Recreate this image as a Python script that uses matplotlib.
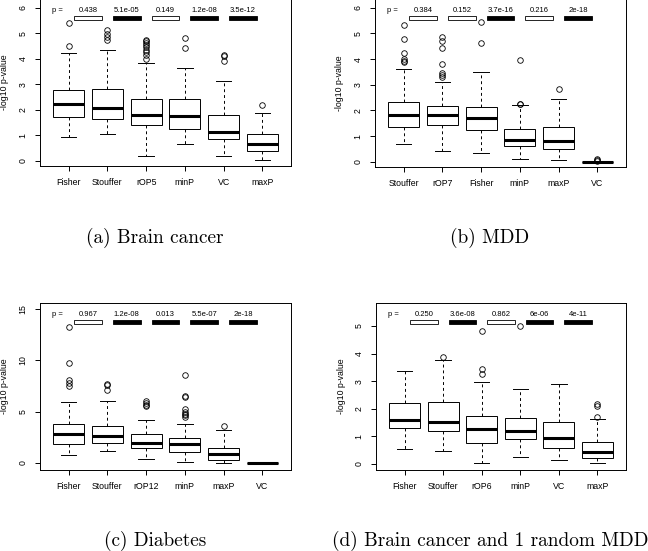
import matplotlib
matplotlib.use("Agg")
import matplotlib.pyplot as plt
from matplotlib.patches import Rectangle

plt.rcParams['font.family'] = ['Liberation Sans', 'DejaVu Sans']

# panel (a) Brain cancer
a_names = ['Fisher', 'Stouffer', 'rOP5', 'minP', 'VC', 'maxP']
a_med = [2.21, 2.08, 1.79, 1.75, 1.15, 0.67]
a_q1 = [1.70, 1.65, 1.40, 1.25, 0.86, 0.38]
a_q3 = [2.76, 2.82, 2.42, 2.42, 1.80, 1.05]
a_lo = [0.93, 1.06, 0.20, 0.67, 0.20, 0.04]
a_hi = [4.24, 4.35, 3.84, 3.65, 3.14, 1.88]
a_out = [[4.50, 5.41], [4.72, 4.85, 4.97, 5.13],
         [4.00, 4.15, 4.25, 4.35, 4.45, 4.55, 4.62, 4.70, 4.72],
         [4.43, 4.81], [3.93, 4.10, 4.13], [2.17]]
a_p = ['0.438', '5.1e-05', '0.149', '1.2e-08', '3.5e-12']

# panel (b) MDD
b_names = ['Stouffer', 'rOP7', 'Fisher', 'minP', 'maxP', 'VC']
b_med = [1.84, 1.83, 1.70, 0.86, 0.83, 0.0]
b_q1 = [1.36, 1.42, 1.23, 0.61, 0.49, 0.0]
b_q3 = [2.34, 2.19, 2.13, 1.26, 1.34, 0.0]
b_lo = [0.70, 0.41, 0.34, 0.13, 0.07, 0.0]
b_hi = [3.62, 3.09, 3.48, 2.23, 2.45, 0.0]
b_out = [[3.90, 3.93, 4.01, 4.25, 4.78, 5.31],
         [3.30, 3.39, 3.46, 3.81, 4.44, 4.72, 4.85],
         [4.61, 5.44], [2.24, 2.26, 3.97], [2.85], [0.04, 0.07, 0.10]]
b_p = ['0.384', '0.152', '3.7e-16', '0.216', '2e-18']

# panel (c) Diabetes
c_names = ['Fisher', 'Stouffer', 'rOP12', 'minP', 'maxP', 'VC']
c_med = [2.79, 2.60, 1.98, 1.88, 0.91, 0.0]
c_q1 = [1.88, 1.95, 1.46, 1.10, 0.26, 0.0]
c_q3 = [3.83, 3.64, 2.82, 2.40, 1.43, 0.0]
c_lo = [0.75, 1.14, 0.39, 0.10, 0.0, 0.0]
c_hi = [5.94, 6.04, 4.16, 3.83, 3.21, 0.0]
c_out = [[7.53, 7.79, 8.12, 9.74, 13.3], [7.14, 7.60, 7.70],
         [5.52, 5.68, 5.84, 6.07],
         [4.51, 4.64, 4.77, 4.94, 5.26, 6.43, 6.49, 8.57], [3.57], []]
c_p = ['0.967', '1.2e-08', '0.013', '5.5e-07', '2e-18']

# panel (d) Brain cancer and 1 random MDD
d_names = ['Fisher', 'Stouffer', 'rOP6', 'minP', 'VC', 'maxP']
d_med = [1.59, 1.53, 1.25, 1.20, 0.94, 0.42]
d_q1 = [1.29, 1.18, 0.76, 0.90, 0.58, 0.22]
d_q3 = [2.20, 2.23, 1.72, 1.65, 1.51, 0.80]
d_lo = [0.54, 0.46, 0.03, 0.25, 0.14, 0.04]
d_hi = [3.36, 3.75, 2.95, 2.71, 2.90, 1.63]
d_out = [[], [3.88], [3.27, 3.43, 4.80], [4.98], [], [1.70, 2.11, 2.16]]
d_p = ['0.250', '3.6e-08', '0.862', '6e-06', '4e-11']

p_sig = [0.438, 5.1e-05, 0.149, 1.2e-08, 3.5e-12,
         0.384, 0.152, 3.7e-16, 0.216, 2e-18,
         0.967, 1.2e-08, 0.013, 5.5e-07, 2e-18,
         0.250, 3.6e-08, 0.862, 6e-06, 4e-11]

W, H = 648, 551
fig = plt.figure(figsize=(W / 100, H / 100), dpi=100)


def panel(rect, names, med, q1, q3, lo, hi, out, plab, pval, ylim, yticks, caption, cap_xy):
    l, t, r, b = rect
    ax = fig.add_axes([l / W, 1 - b / H, (r - l) / W, (b - t) / H])
    stats = []
    for i in range(len(names)):
        stats.append(dict(med=med[i], q1=q1[i], q3=q3[i], whislo=lo[i], whishi=hi[i], fliers=out[i]))
    ax.bxp(stats, positions=range(1, len(names) + 1), widths=0.8, patch_artist=True,
           boxprops=dict(facecolor='white', edgecolor='black', linewidth=0.7),
           medianprops=dict(color='black', linewidth=2.2, solid_capstyle='butt'),
           whiskerprops=dict(color='black', linewidth=0.7, linestyle=(0, (3, 3))),
           capprops=dict(color='black', linewidth=0.7), capwidths=0.4,
           flierprops=dict(marker='o', markersize=4.0, markerfacecolor='none',
                           markeredgecolor='black', markeredgewidth=0.6))
    ax.set_xlim(0.26, len(names) + 0.74)
    ax.set_ylim(*ylim)
    ax.set_yticks(yticks)
    ax.set_xticks(range(1, len(names) + 1))
    ax.set_xticklabels(names)
    ax.tick_params(axis='both', direction='out', length=3.6, width=0.7, labelsize=6.3, colors='black')
    ax.tick_params(axis='x', pad=5.2)
    ax.tick_params(axis='y', pad=5.5)
    for lab in ax.get_yticklabels():
        lab.set_rotation(90)
        lab.set_va('center')
    for s in ax.spines.values():
        s.set_linewidth(0.7)
    ax.set_ylabel('-log10 p-value', fontsize=6.3)
    ax.yaxis.set_label_coords(-0.122, 0.5)
    tr = ax.get_xaxis_transform()
    ax.text(0.7, 0.93, 'p =', transform=tr, ha='center', va='center', fontsize=5.5)
    for i in range(len(plab)):
        x0 = i + 1.14
        fc = 'black' if pval[i] < 0.05 else 'white'
        ax.add_patch(Rectangle((x0, 0.874), 0.72, 0.024, transform=tr, facecolor=fc,
                               edgecolor='black', linewidth=0.6, clip_on=False))
        ax.text(i + 1.5, 0.93, plab[i], transform=tr, ha='center', va='center', fontsize=5.5)
    fig.text(cap_xy[0] / W, 1 - cap_xy[1] / H, caption, fontname='cmr10', fontsize=13.9,
             ha='center', va='center')
    return ax


panel((40, -1, 291, 166), a_names, a_med, a_q1, a_q3, a_lo, a_hi, a_out, a_p, p_sig[0:5],
      (-0.2, 6.34), range(0, 7), '(a) Brain cancer', (155, 238))
panel((375, -1, 626, 167), b_names, b_med, b_q1, b_q3, b_lo, b_hi, b_out, b_p, p_sig[5:10],
      (-0.2, 6.34), range(0, 7), '(b) MDD', (490, 238))
panel((40, 303, 291, 470), c_names, c_med, c_q1, c_q3, c_lo, c_hi, c_out, c_p, p_sig[10:15],
      (-0.68, 15.6), [0, 5, 10, 15], '(c) Diabetes', (155, 541))
panel((376, 303, 626, 470), d_names, d_med, d_q1, d_q3, d_lo, d_hi, d_out, d_p, p_sig[15:20],
      (-0.22, 5.83), range(0, 6), '(d) Brain cancer and 1 random MDD', (490, 541))

fig.savefig('out.png', dpi=100)
